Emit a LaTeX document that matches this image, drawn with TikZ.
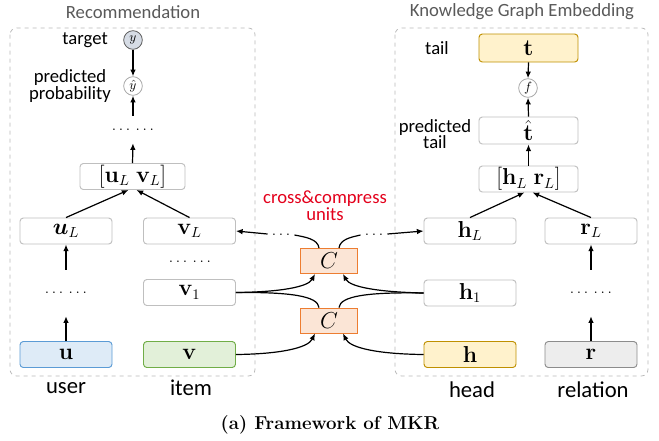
\documentclass[tikz,border=0pt]{standalone}
\usepackage[no-math]{fontspec}
\usepackage{amsmath,bm}
\newfontfamily\lab{Carlito}
\usetikzlibrary{arrows.meta,calc}
\definecolor{boxgray}{HTML}{BFBFBF}
\definecolor{ublue}{HTML}{DEEBF7}
\definecolor{ubluedk}{HTML}{5B9BD5}
\definecolor{vgreen}{HTML}{E2F0D9}
\definecolor{vgreendk}{HTML}{70AD47}
\definecolor{hyel}{HTML}{FFF2CC}
\definecolor{hyeldk}{HTML}{BF9000}
\definecolor{rgray}{HTML}{EDEDED}
\definecolor{rgraydk}{HTML}{8C8C8C}
\definecolor{corg}{HTML}{FBE5D6}
\definecolor{corgdk}{HTML}{ED7D31}
\definecolor{titgray}{HTML}{595959}
\definecolor{ccred}{HTML}{E3001B}
\definecolor{ycirc}{HTML}{D6DCE5}
\begin{document}
\begin{tikzpicture}[x=0.75pt,y=-0.75pt,
  box/.style={draw=boxgray, line width=0.7pt, rounded corners=2.5pt, fill=white,
    minimum width=69pt, minimum height=19.5pt, inner sep=0pt,
    font=\fontsize{16}{18}\selectfont},
  cunit/.style={draw=corgdk, fill=corg, line width=0.7pt, minimum width=42.75pt,
    minimum height=18.75pt, inner sep=0pt, font=\fontsize{16}{18}\selectfont},
  circ/.style={circle, draw=gray!70, line width=0.6pt, fill=white, inner sep=0pt,
    minimum size=14pt, font=\fontsize{10}{11}\selectfont},
  dotsn/.style={inner sep=0pt, font=\bfseries\fontsize{12}{14}\selectfont},
  arr/.style={-{Latex[length=5pt,width=4.2pt]}, line width=0.9pt},
  ln/.style={line width=0.9pt},
  lbl/.style={font=\lab\fontsize{14}{12.5}\selectfont, align=center, inner sep=0pt},
  blbl/.style={font=\lab\fontsize{17}{19}\selectfont, inner sep=0pt},
  ttl/.style={font=\lab\fontsize{14}{16}\selectfont, text=titgray, inner sep=0pt},
  cont/.style={draw=gray!55, dashed, line width=0.6pt, rounded corners=5pt}
]
\useasboundingbox (0,0) rectangle (659,440);

% containers
\draw[cont] (10,28) rectangle (255,376);
\draw[cont] (395,28) rectangle (648,376);
\node[ttl] (t1) at (133,12) {Recommendation};
\node[ttl] (t2) at (522,12) {Knowledge Graph Embedding};

% left column nodes
\node[circ, fill=ycirc, draw=titgray] (y) at (133,40) {$y$};
\node[circ] (yh) at (133,86) {$\hat{y}$};
\node[lbl, anchor=east] (ltarget) at (108,40) {target};
\node[lbl] (lpred) at (70,86) {predicted\\probability};
\node[dotsn, minimum height=20.25pt] (td) at (133,129.5) {$\ldots\,\ldots$};
\node[box, minimum width=78.75pt] (ULVL) at (132.5,176.5) {$[\mathbf{u}_L\ \mathbf{v}_L]$};
\node[box] (uL) at (66,231) {$\boldsymbol{u}_L$};
\node[box] (vL) at (189.5,231) {$\mathbf{v}_L$};
\node[dotsn] (vd) at (190,262) {$\ldots\,\ldots$};
\node[box] (v1) at (189.5,292.5) {$\mathbf{v}_1$};
\node[dotsn, minimum height=34.5pt] (ud) at (66,293) {$\ldots\,\ldots$};
\node[box, fill=ublue, draw=ubluedk] (u) at (66,354.5) {$\mathbf{u}$};
\node[box, fill=vgreen, draw=vgreendk] (v) at (189.5,354.5) {$\mathbf{v}$};
\node[blbl] (luser) at (66,388) {user};
\node[blbl] (litem) at (191,388) {item};

% right column nodes
\node[box, fill=hyel, draw=hyeldk, minimum width=74.25pt, minimum height=21pt] (t) at (528.5,48) {$\mathbf{t}$};
\node[lbl] (ltail) at (437,48) {tail};
\node[circ] (f) at (528,88) {$f$};
\node[box, minimum width=74.25pt, minimum height=20.25pt] (th) at (528.5,130.5) {$\hat{\mathbf{t}}$};
\node[lbl] (lptail) at (435,134) {predicted\\tail};
\node[box, minimum width=74.25pt] (HLRL) at (528.5,179) {$[\mathbf{h}_L\ \mathbf{r}_L]$};
\node[box] (hL) at (470,231) {$\mathbf{h}_L$};
\node[box] (rL) at (591,231) {$\mathbf{r}_L$};
\node[box] (h1) at (470,293) {$\mathbf{h}_1$};
\node[dotsn, minimum height=34.5pt] (rd) at (591,293) {$\ldots\,\ldots$};
\node[box, fill=hyel, draw=hyeldk] (h) at (470,354.5) {$\mathbf{h}$};
\node[box, fill=rgray, draw=rgraydk] (r) at (591,354.5) {$\mathbf{r}$};
\node[blbl] (lhead) at (472,390) {head};
\node[blbl] (lrel) at (593,390) {relation};

% cross & compress units
\node[cunit] (Ct) at (329,261) {$C$};
\node[cunit] (Cb) at (329,320.5) {$C$};
\node[lbl, text=ccred] (lcc) at (325,206) {cross\&compress\\units};
\node[dotsn] (dl) at (281,235) {$\ldots$};
\node[dotsn] (dr) at (374,235) {$\ldots$};

% caption
\node[inner sep=0pt, font=\bfseries\fontsize{14}{16}\selectfont] (cap) at (330,425) {(a) Framework of MKR};

% left column arrows
\draw[arr] (y.south) -- (yh.north);
\draw[arr] (td.north) -- (yh.south);
\draw[arr] (ULVL.north) -- (td.south);
\draw[arr] (uL.north) -- ($(ULVL.south)+(-4,0)$);
\draw[arr] (vL.north) -- ($(ULVL.south)+(4,0)$);
\draw[arr] (ud.north) -- (uL.south);
\draw[arr] (u.north) -- (ud.south);

% right column arrows
\draw[arr] (t.south) -- (f.north);
\draw[arr] (th.north) -- (f.south);
\draw[arr] (HLRL.north) -- (th.south);
\draw[arr] (hL.north) -- ($(HLRL.south)+(-4,0)$);
\draw[arr] (rL.north) -- ($(HLRL.south)+(4,0)$);
\draw[arr] (rd.north) -- (rL.south);
\draw[arr] (r.north) -- (rd.south);

% cross unit connections
\draw[arr] (v.east) .. controls (280,354) and (308,348) .. ($(Cb.south)+(-14,0)$);
\draw[arr] (h.west) .. controls (378,354) and (350,348) .. ($(Cb.south)+(14,0)$);
\draw[ln] ($(Cb.north)+(-10,0)$) .. controls (318,296) and (290,292) .. (v1.east);
\draw[ln] ($(Cb.north)+(10,0)$) .. controls (340,296) and (368,292) .. (h1.west);
\draw[arr] (v1.east) .. controls (280,292) and (308,287) .. ($(Ct.south)+(-14,0)$);
\draw[arr] (h1.west) .. controls (378,292) and (350,287) .. ($(Ct.south)+(14,0)$);
\draw[ln] ($(Ct.north)+(-10,0)$) .. controls (318,239) and (305,237) .. ($(dl.east)+(4,0)$);
\draw[ln] ($(Ct.north)+(10,0)$) .. controls (340,239) and (352,237) .. ($(dr.west)+(-4,0)$);
\draw[arr] ($(dl.west)+(-4,-1)$) -- (vL.east);
\draw[arr] ($(dr.east)+(4,-1)$) -- (hL.west);
\end{tikzpicture}
\end{document}
